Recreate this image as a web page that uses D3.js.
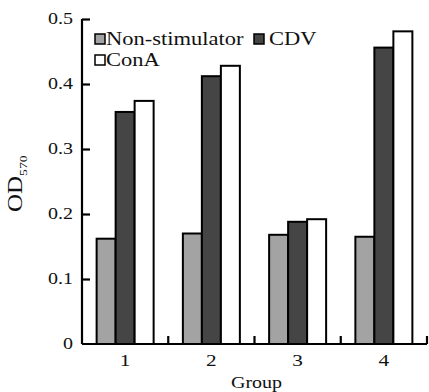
<!DOCTYPE html>
<html><head><meta charset="utf-8">
<script src="https://cdn.jsdelivr.net/npm/d3@7"></script>
<style>html,body{margin:0;padding:0;background:#fff;} svg{display:block;}</style>
</head><body>
<script>
const groups = ["1","2","3","4"];
const seriesNames = ["Non-stimulator","CDV","ConA"];
const nonStim = [0.162, 0.170, 0.168, 0.165];
const cdv = [0.357, 0.412, 0.188, 0.456];
const conA = [0.374, 0.428, 0.192, 0.481];
const yTicks = [0, 0.1, 0.2, 0.3, 0.4, 0.5];
const yTickLabels = ["0","0.1","0.2","0.3","0.4","0.5"];
const colors = ["#a3a3a3", "#454545", "#ffffff"];

const W = 429, H = 392;
const mLeft = 82, mRight = 427, mTop = 19, mBottom = 344;
const SX = 1.25;
const font = "'Liberation Serif','Times New Roman',serif";

const svg = d3.select("body").append("svg").attr("width", W).attr("height", H);

const x0 = d3.scaleBand().domain(groups).range([mLeft, mRight]).paddingInner(0).paddingOuter(0);
const x1 = d3.scaleBand().domain(seriesNames).range([0, 57]).padding(0);
const y = d3.scaleLinear().domain([0, 0.5]).range([mBottom, mTop]);

const data = groups.map((g, i) => ({g, vals: [nonStim[i], cdv[i], conA[i]]}));

// bars
const gg = svg.selectAll("g.grp").data(data).enter().append("g")
  .attr("transform", d => `translate(${x0(d.g) + x0.bandwidth()/2 - 28.5},0)`);
gg.selectAll("rect").data(d => d.vals.map((v, j) => ({v, s: seriesNames[j], j})))
  .enter().append("rect")
  .attr("x", d => x1(d.s))
  .attr("y", d => y(d.v))
  .attr("width", x1.bandwidth())
  .attr("height", d => y(0) - y(d.v))
  .attr("fill", d => colors[d.j])
  .attr("stroke", "#000").attr("stroke-width", 2);

function stext(x, yy, str, size, anchor, baseline) {
  return svg.append("text")
    .attr("transform", `translate(${x},${yy}) scale(${SX},1)`)
    .attr("font-family", font).attr("font-size", size)
    .attr("text-anchor", anchor || "start")
    .attr("dominant-baseline", baseline || "auto")
    .attr("fill", "#111")
    .text(str);
}

// y axis
const yAxis = d3.axisLeft(y).tickValues(yTicks).tickSize(-8).tickFormat((d, i) => yTickLabels[i]);
const ya = svg.append("g").attr("transform", `translate(${mLeft},0)`).call(yAxis);
ya.select(".domain").attr("stroke", "#000").attr("stroke-width", 2.2).attr("d", `M0,${mTop}V${mBottom}`);
ya.selectAll(".tick line").attr("stroke", "#000").attr("stroke-width", 2.2);
ya.selectAll(".tick").filter(d => d === 0).select("line").remove();
ya.selectAll(".tick text").remove();
yTicks.forEach((t, i) => stext(mLeft - 9, y(t), yTickLabels[i], 16, "end", "central"));

// x axis
const xa = svg.append("g").attr("transform", `translate(0,${mBottom})`)
  .call(d3.axisBottom(x0).tickSize(0).tickFormat(""));
xa.select(".domain").attr("stroke", "#000").attr("stroke-width", 2.2).attr("d", `M${mLeft},0H${mRight}`);
xa.selectAll(".tick").remove();
const bounds = groups.map(g => x0(g) + x0.bandwidth());
xa.selectAll("line.bt").data(bounds).enter().append("line")
  .attr("x1", d => d).attr("x2", d => d).attr("y1", 0).attr("y2", -8)
  .attr("stroke", "#000").attr("stroke-width", 2.2);
groups.forEach(g => stext(x0(g) + x0.bandwidth()/2, 366, g, 17, "middle"));

// axis titles
stext((mLeft + mRight)/2 + 2, 388, "Group", 16, "middle");
const yl = svg.append("text")
  .attr("transform", `translate(22,212) rotate(-90) scale(${SX},1)`)
  .attr("font-family", font).attr("font-size", 20).attr("fill", "#111");
yl.append("tspan").text("OD");
yl.append("tspan").attr("font-size", 11).attr("dy", 5).text("570");

// legend
const legendItems = [
  {name: seriesNames[0], c: colors[0], sx: 95, sy: 34, tx: 106, ty: 45},
  {name: seriesNames[1], c: colors[1], sx: 254, sy: 34, tx: 269, ty: 45},
  {name: seriesNames[2], c: colors[2], sx: 95, sy: 55, tx: 106, ty: 66}
];
legendItems.forEach(l => {
  svg.append("rect").attr("x", l.sx).attr("y", l.sy).attr("width", 10).attr("height", 10)
    .attr("fill", l.c).attr("stroke", "#000").attr("stroke-width", 1.5);
  stext(l.tx, l.ty, l.name, 18, "start");
});
</script>
</body></html>
